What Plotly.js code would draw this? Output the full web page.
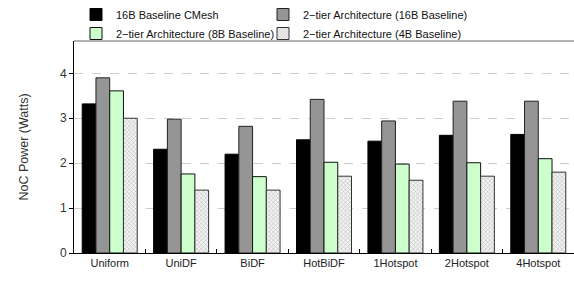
<!DOCTYPE html>
<html><head><meta charset="utf-8">
<script src="https://cdn.plot.ly/plotly-3.0.1.min.js"></script>
<style>html,body{margin:0;padding:0;background:#fff}#c{width:574px;height:284px}</style>
</head><body><div id="c"></div>
<script>
const categories = ['Uniform','UniDF','BiDF','HotBiDF','1Hotspot','2Hotspot','4Hotspot'];
const seriesNames = ['16B Baseline CMesh','2\u2212tier Architecture (16B Baseline)','2\u2212tier Architecture (8B Baseline)','2\u2212tier Architecture (4B Baseline)'];
const cmesh16 = [3.32, 2.31, 2.20, 2.52, 2.49, 2.62, 2.64];
const tier16 = [3.90, 2.98, 2.82, 3.42, 2.94, 3.38, 3.38];
const tier8  = [3.61, 1.76, 1.70, 2.02, 1.98, 2.01, 2.10];
const tier4  = [3.00, 1.40, 1.40, 1.71, 1.62, 1.71, 1.80];
const yTicks = [0,1,2,3,4];

const font = 'Liberation Sans, Arial, sans-serif';
const traces = [
  {name: seriesNames[0], y: cmesh16, legend:'legend', marker:{color:'#000000', line:{color:'#000000', width:1}}},
  {name: seriesNames[1], y: tier16, legend:'legend2', marker:{color:'#959595', line:{color:'#222222', width:1}}},
  {name: seriesNames[2], y: tier8, legend:'legend', marker:{color:'#ccffcc', line:{color:'#111111', width:1}}},
  {name: seriesNames[3], y: tier4, legend:'legend2', marker:{color:'#f2f2f2', pattern:{shape:'x', fgcolor:'#b0b0b0', bgcolor:'#f4f4f4', size:3, solidity:0.3}, line:{color:'#333333', width:1}}}
].map(t => Object.assign({type:'bar', x: categories}, t));

const legendBase = {orientation:'v', xanchor:'left', y:1, yanchor:'top', yref:'container',
  font:{family:font, size:11, color:'#111'}, tracegroupgap:0, itemwidth:30, bgcolor:'rgba(0,0,0,0)', traceorder:'normal'};

const layout = {
  width:574, height:284,
  margin:{l:74, r:0, t:41, b:31, autoexpand:false},
  paper_bgcolor:'#fff', plot_bgcolor:'#fff',
  font:{family:font, size:11, color:'#222'},
  barmode:'group', bargap:0.23, bargroupgap:0,
  showlegend:true,
  legend: Object.assign({}, legendBase, {x:0.004}),
  legend2: Object.assign({}, legendBase, {x:0.378}),
  xaxis:{tickvals:categories, ticks:'inside', tickson:'boundaries', ticklen:4, tickcolor:'#000',
         showline:true, linecolor:'#000', linewidth:1, showgrid:false, zeroline:false, automargin:false,
         tickfont:{family:font, size:11, color:'#222'}},
  yaxis:{range:[0,4.72], tickvals:yTicks, ticks:'outside', ticklen:4, tickcolor:'#000', automargin:false,
         showline:true, linecolor:'#000', linewidth:1, showgrid:true, gridcolor:'#cccccc', griddash:'dash',
         zeroline:false, tickfont:{family:font, size:12, color:'#333'},
         title:{text:'NoC Power (Watts)', font:{family:font, size:12.5, color:'#333'}, standoff:28}},
  shapes:[{type:'line', xref:'paper', yref:'paper', x0:0, x1:1, y0:1, y1:1, line:{color:'#999', width:1.5}, layer:'below'}]
};
Plotly.newPlot('c', traces, layout, {displayModeBar:false, staticPlot:true});
</script></body></html>
